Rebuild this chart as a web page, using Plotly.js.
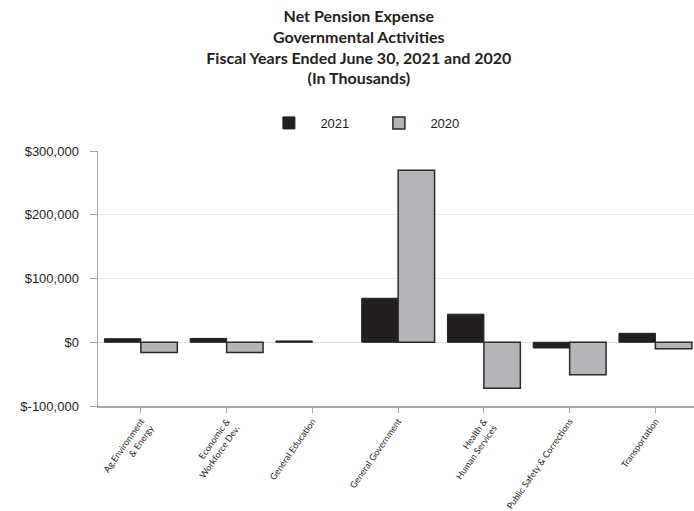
<!DOCTYPE html>
<html>
<head>
<meta charset="utf-8">
<script src="https://cdn.plot.ly/plotly-3.0.1.min.js"></script>
<style>html,body{margin:0;padding:0;background:#fff;}#chart{width:694px;height:511px;}</style>
</head>
<body>
<div id="chart"></div>
<script>
const categories = [
  "Ag.Environment<br>& Energy",
  "Economic &<br>Workforce Dev.",
  "General Education",
  "General Government",
  "Health &<br>Human Services",
  "Public Safety & Corrections",
  "Transportation"
];
const values2021 = [5500, 6000, 2000, 69000, 44000, -9000, 14000];
const values2020 = [-16000, -16000, null, 270000, -72000, -51000, -10000];
const yTickVals = [-100000, 0, 100000, 200000, 300000];
const yTickText = ["$-100,000", "$0", "$100,000", "$200,000", "$300,000"];

const traces = [
  {type: "bar", name: "2021", x: categories, y: values2021,
   marker: {color: "#231f20", line: {color: "#231f20", width: 1}}},
  {type: "bar", name: "2020", x: categories, y: values2020,
   marker: {color: "#b4b5b8", line: {color: "#2a2a2a", width: 1.5}}}
];

const layout = {
  width: 694, height: 511,
  margin: {l: 98, r: 0, t: 151, b: 104.5},
  paper_bgcolor: "#fff", plot_bgcolor: "#fff",
  barmode: "group", bargap: 0.15, bargroupgap: 0,
  title: {
    text: "<b>Net Pension Expense<br>Governmental Activities<br>Fiscal Years Ended June 30, 2021 and 2020<br>(In Thousands)</b>",
    font: {family: "Lato, 'Open Sans', sans-serif", size: 16, color: "#231f20"},
    x: 0.517, xanchor: "center", xref: "container",
    y: 0.957, yanchor: "top", yref: "container"
  },
  showlegend: true,
  legend: {
    orientation: "h", x: 0.452, xanchor: "center", y: 1.11, yanchor: "middle",
    font: {family: "'Liberation Sans', Arial, sans-serif", size: 13, color: "#231f20"},
    itemwidth: 53, entrywidth: 42, entrywidthmode: "pixels", tracegroupgap: 0
  },
  xaxis: {
    type: "category", range: [-0.5, 6.45],
    showline: true, linecolor: "#a8a8a8", linewidth: 1.5,
    ticks: "outside", ticklen: 5, tickcolor: "#a8a8a8",
    tickangle: -55,
    tickfont: {family: "Lato, 'Open Sans', sans-serif", size: 9, color: "#231f20"},
    showgrid: false, zeroline: false, fixedrange: true
  },
  yaxis: {
    range: [-100000, 300000],
    tickvals: yTickVals, ticktext: yTickText,
    showline: true, linecolor: "#a8a8a8", linewidth: 1.5,
    ticks: "outside", ticklen: 7, tickcolor: "#a8a8a8",
    ticklabelstandoff: 8,
    tickfont: {family: "'Liberation Sans', Arial, sans-serif", size: 13, color: "#231f20"},
    showgrid: true, gridcolor: "#ececec", gridwidth: 1,
    zeroline: true, zerolinecolor: "#e0e0e0", zerolinewidth: 1.5,
    fixedrange: true
  }
};

Plotly.newPlot("chart", traces, layout, {displayModeBar: false, staticPlot: true});
</script>
</body>
</html>
